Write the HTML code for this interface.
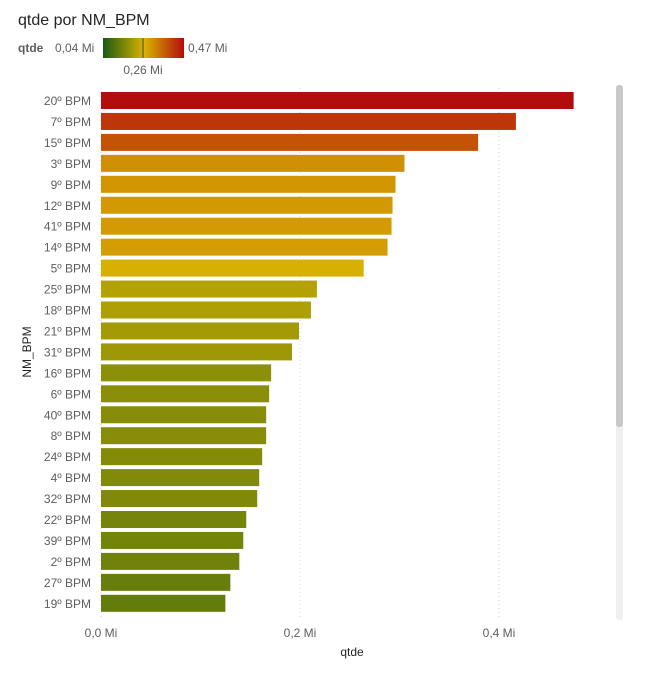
<!DOCTYPE html>
<html><head><meta charset="utf-8"><style>
body{margin:0;background:#fff;width:655px;height:673px;overflow:hidden;font-family:"Liberation Sans",sans-serif;}
</style></head><body>
<svg width="655" height="673" font-family="Liberation Sans, sans-serif">
<defs><linearGradient id="lg" x1="0" x2="1"><stop offset="0" stop-color="#1a5a14"/><stop offset="0.51" stop-color="#d9b300"/><stop offset="1" stop-color="#b30c0c"/></linearGradient></defs>
<text x="18" y="25" font-size="16" fill="#252423">qtde por NM_BPM</text>
<g>
<text x="18" y="52" font-size="12" font-weight="bold" fill="#605e5c">qtde</text>
<text x="55" y="52" font-size="12" fill="#605e5c">0,04 Mi</text>
<rect x="103" y="38" width="81" height="20" fill="url(#lg)"/>
<line x1="143" y1="38" x2="143" y2="58" stroke="#444" stroke-width="1"/>
<text x="188" y="52" font-size="12" fill="#605e5c">0,47 Mi</text>
<text x="143" y="74" font-size="12" fill="#605e5c" text-anchor="middle">0,26 Mi</text>
</g>
<rect x="616" y="85" width="7" height="535" rx="3" fill="#f0f0f0"/>
<rect x="616" y="85" width="7" height="342" rx="3" fill="#c8c8c8"/>
<g id="plot"></g>
<text x="352" y="656" font-size="12" fill="#252423" text-anchor="middle">qtde</text>
<text transform="translate(31,352) rotate(-90)" font-size="12" fill="#252423" text-anchor="middle">NM_BPM</text>
</svg>
<script>
const categories=["20º BPM","7º BPM","15º BPM","3º BPM","9º BPM","12º BPM","41º BPM","14º BPM","5º BPM","25º BPM","18º BPM","21º BPM","31º BPM","16º BPM","6º BPM","40º BPM","8º BPM","24º BPM","4º BPM","32º BPM","22º BPM","39º BPM","2º BPM","27º BPM","19º BPM"];
const values=[0.475,0.417,0.379,0.305,0.296,0.293,0.292,0.288,0.264,0.217,0.211,0.199,0.192,0.171,0.169,0.166,0.166,0.162,0.159,0.157,0.146,0.143,0.139,0.130,0.125];
const xTicks=[0,0.2,0.4];
const xTickLabels=["0,0 Mi","0,2 Mi","0,4 Mi"];
const NS="http://www.w3.org/2000/svg";
const g=document.getElementById('plot');
const x0=101,scale=995,y0=90,step=20.95,bh=17;
function xs(v){return x0+v*scale;}
function ys(i){return y0+i*step;}
function lerp(a,b,t){return a.map((c,k)=>Math.round(c+(b[k]-c)*t));}
function color(v){const G=[26,90,20],Y=[217,179,0],R=[179,12,12];let c;
 if(v<=0.26)c=lerp(G,Y,Math.max(0,(v-0.04)/0.22));else c=lerp(Y,R,Math.min(1,(v-0.26)/0.21));
 return `rgb(${c[0]},${c[1]},${c[2]})`;}
xTicks.forEach((t,i)=>{
 const l=document.createElementNS(NS,'line');
 l.setAttribute('x1',xs(t));l.setAttribute('x2',xs(t));l.setAttribute('y1',88);l.setAttribute('y2',620);
 l.setAttribute('stroke','#d0d0d0');l.setAttribute('stroke-dasharray','1,3');
 
 
 g.appendChild(l);
 const tx=document.createElementNS(NS,'text');
 tx.setAttribute('x',xs(t));tx.setAttribute('y',637);tx.setAttribute('font-size','12');tx.setAttribute('fill','#605e5c');tx.setAttribute('text-anchor','middle');
 tx.textContent=xTickLabels[i];
 
 
 g.appendChild(tx);
});
categories.forEach((c,i)=>{
 const r=document.createElementNS(NS,'rect');
 r.setAttribute('x',x0);r.setAttribute('y',ys(i)+2);r.setAttribute('width',xs(values[i])-x0);r.setAttribute('height',bh);
 r.setAttribute('fill',color(values[i]));
 
 
 g.appendChild(r);
 const t=document.createElementNS(NS,'text');
 t.setAttribute('x',91);t.setAttribute('y',ys(i)+15);t.setAttribute('font-size','12');t.setAttribute('fill','#605e5c');t.setAttribute('text-anchor','end');
 t.textContent=c;
 
 
 g.appendChild(t);
});
</script>
</body></html>
